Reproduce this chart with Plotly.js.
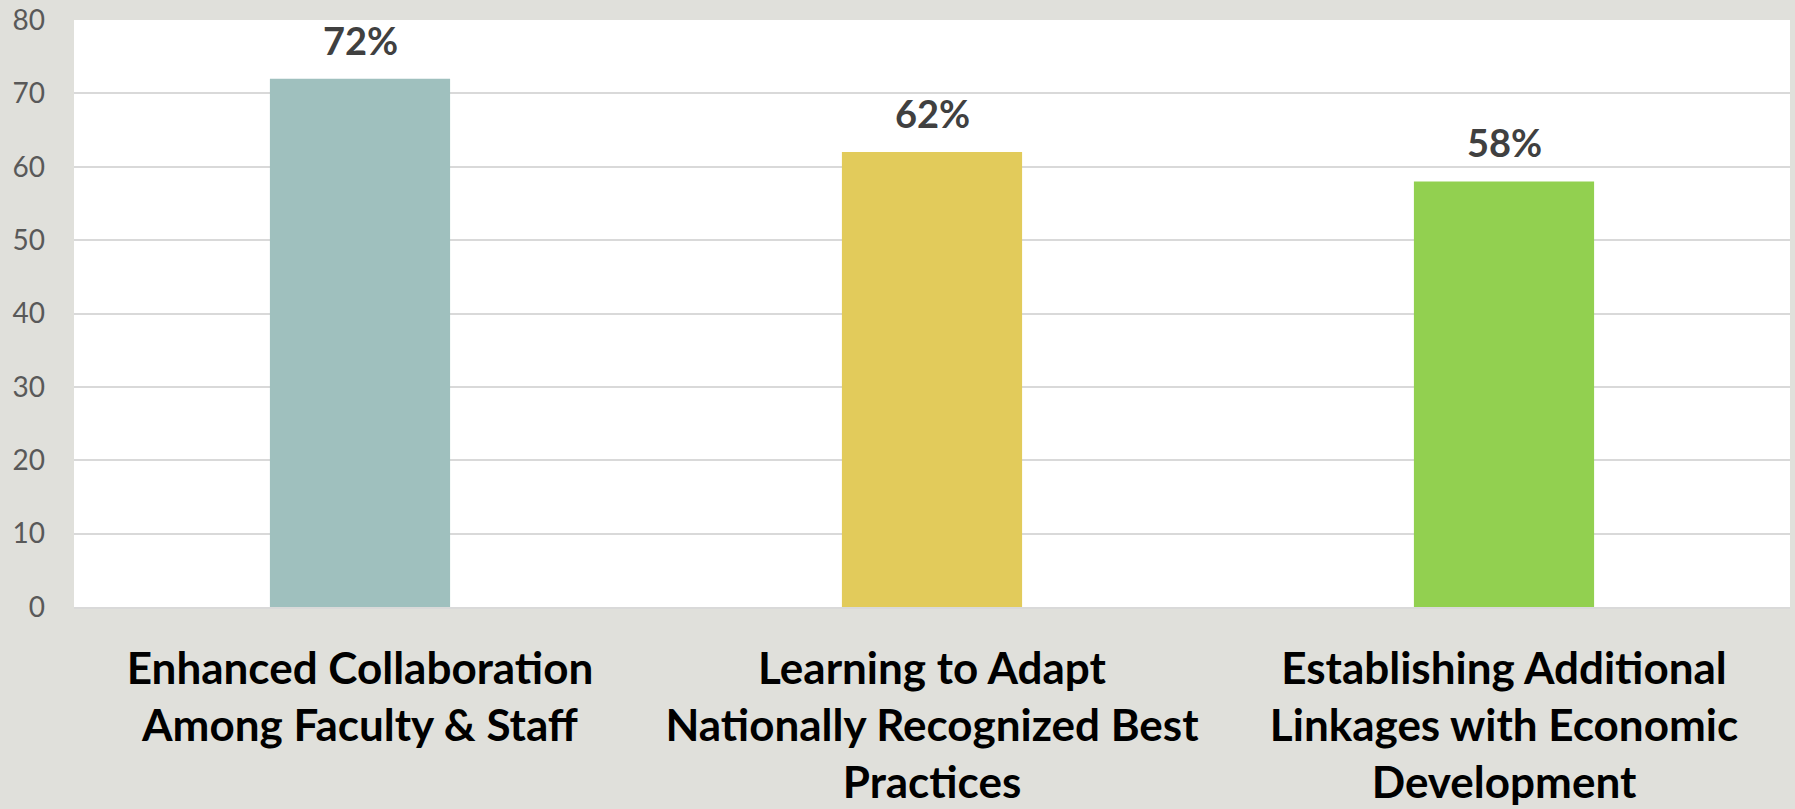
<!DOCTYPE html>
<html>
<head>
<meta charset="utf-8">
<script src="https://cdn.plot.ly/plotly-3.0.1.min.js"></script>
<style>html,body{margin:0;padding:0;background:#E0E0DB;}#chart{width:1795px;height:809px;}</style>
</head>
<body>
<div id="chart"></div>
<script>
var categories = [
  "Enhanced Collaboration<br>Among Faculty & Staff",
  "Learning to Adapt<br>Nationally Recognized Best<br>Practices",
  "Establishing Additional<br>Linkages with Economic<br>Development"
];
var values = [72, 62, 58];
var valueLabels = ["72%", "62%", "58%"];
var barColors = ["#9FC0BE", "#E2CB5B", "#92D050"];
var yTicks = [0, 10, 20, 30, 40, 50, 60, 70, 80];

var trace = {
  type: "bar",
  x: categories,
  y: values,
  marker: {color: barColors},
  width: 0.315,
  hoverinfo: "none"
};

var annotations = categories.map(function(c, i) {
  return {
    x: c, y: values[i], xref: "x", yref: "y",
    text: valueLabels[i], showarrow: false,
    yanchor: "bottom", yshift: 14,
    font: {family: "Lato, 'Open Sans', sans-serif", size: 38, color: "#404040", weight: "bold"}
  };
});

var layout = {
  width: 1795, height: 809,
  margin: {l: 74, r: 5, t: 20, b: 202},
  paper_bgcolor: "#E0E0DB",
  plot_bgcolor: "#FFFFFF",
  showlegend: false,
  bargap: 0.685,
  xaxis: {
    type: "category",
    tickfont: {family: "Lato, 'Open Sans', sans-serif", size: 44, color: "#000000", weight: "bold"},
    showline: true, linecolor: "#D9D9D9", linewidth: 2,
    ticks: "", ticklabelstandoff: 22,
    fixedrange: true
  },
  yaxis: {
    range: [0, 80],
    tickvals: yTicks,
    ticktext: yTicks.map(String),
    tickfont: {family: "Lato, 'Open Sans', sans-serif", size: 28, color: "#595959"},
    showgrid: true, gridcolor: "#D9D9D9", gridwidth: 2,
    zeroline: false,
    ticks: "", ticklabelstandoff: 28,
    fixedrange: true
  },
  annotations: annotations
};

Plotly.newPlot("chart", [trace], layout, {staticPlot: true, displayModeBar: false});
</script>
</body>
</html>
